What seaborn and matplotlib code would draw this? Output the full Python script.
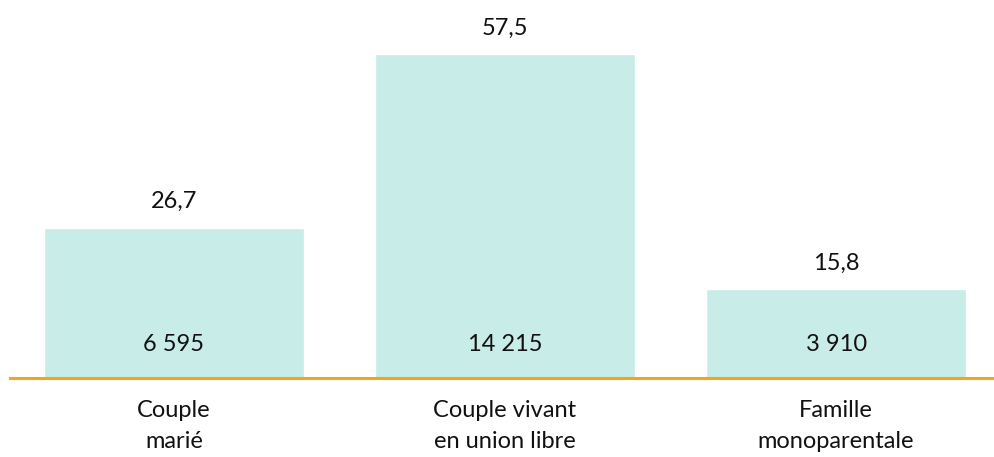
import matplotlib
matplotlib.use("Agg")
import matplotlib.pyplot as plt
import seaborn as sns
import pandas as pd

# data
categories = ["Couple\nmarié", "Couple vivant\nen union libre", "Famille\nmonoparentale"]
percents = [26.7, 57.5, 15.8]
counts = [6595, 14215, 3910]

df = pd.DataFrame({"cat": categories, "pct": percents, "n": counts})

sns.set_theme(style="white")
plt.rcParams["font.family"] = ["Lato", "DejaVu Sans"]

fig = plt.figure(figsize=(9.95, 4.57), dpi=100)
ax = fig.add_axes([0.01, 0.1729, 0.99, 0.8271])

sns.barplot(data=df, x="cat", y="pct", color="#C8ECE7", saturation=1,
            width=0.785, ax=ax)

ax.set_xlim(-0.495, 2.48)
ax.set_ylim(0, 67.1)

for i, (p, n) in enumerate(zip(percents, counts)):
    ax.annotate(f"{p:.1f}".replace(".", ","), (i, p), xytext=(0, 26),
                textcoords="offset pixels", ha="center", va="center",
                fontsize=17, color="#111111")
    ax.annotate(f"{n:,}".replace(",", " "), (i, 0), xytext=(0, 33),
                textcoords="offset pixels", ha="center", va="center",
                fontsize=17, color="#111111")

for s in ["top", "right", "left"]:
    ax.spines[s].set_visible(False)
ax.spines["bottom"].set_color("#F0A51A")
ax.spines["bottom"].set_linewidth(2.2)

ax.set_yticks([])
ax.set_xlabel("")
ax.set_ylabel("")
ax.tick_params(axis="x", length=0, pad=16, labelsize=17, colors="#111111")
for lbl in ax.get_xticklabels():
    lbl.set_linespacing(1.55)

fig.savefig("out.png", dpi=100)
